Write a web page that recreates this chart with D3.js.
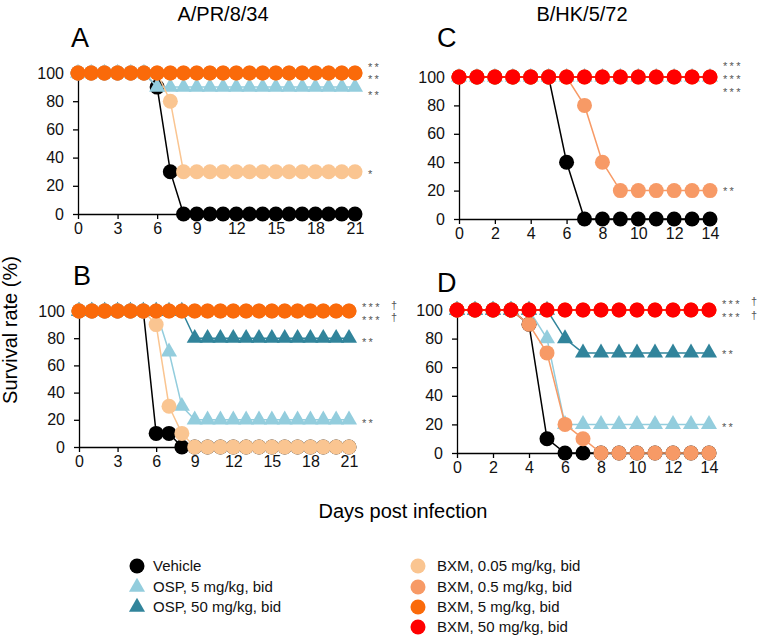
<!DOCTYPE html>
<html>
<head>
<meta charset="utf-8">
<script src="https://cdn.jsdelivr.net/npm/d3@7"></script>
<style>
  body { margin: 0; background: #fff; }
  svg { display: block; font-family: "Liberation Sans", Arial, sans-serif; }
</style>
</head>
<body>
<svg id="chart" width="761" height="643"></svg>
<script>
// days post infection
const daysPR = [0, 1, 2, 3, 4, 5, 6, 7, 8, 9, 10, 11, 12, 13, 14, 15, 16, 17, 18, 19, 20, 21];
const daysHK = [0, 1, 2, 3, 4, 5, 6, 7, 8, 9, 10, 11, 12, 13, 14];
const xTicksPR = [0, 3, 6, 9, 12, 15, 18, 21];
const xTicksHK = [0, 2, 4, 6, 8, 10, 12, 14];
const yTicks = [0, 20, 40, 60, 80, 100];

// panel A - A/PR/8/34
const vehicleA = [100, 100, 100, 100, 100, 100, 90, 30, 0, 0, 0, 0, 0, 0, 0, 0, 0, 0, 0, 0, 0, 0];
const osp5A    = [100, 100, 100, 100, 100, 100, 90, 90, 90, 90, 90, 90, 90, 90, 90, 90, 90, 90, 90, 90, 90, 90];
const bxm005A  = [100, 100, 100, 100, 100, 100, 100, 80, 30, 30, 30, 30, 30, 30, 30, 30, 30, 30, 30, 30, 30, 30];
const bxm05A   = [100, 100, 100, 100, 100, 100, 100, 100, 100, 100, 100, 100, 100, 100, 100, 100, 100, 100, 100, 100, 100, 100];
const bxm5A    = [100, 100, 100, 100, 100, 100, 100, 100, 100, 100, 100, 100, 100, 100, 100, 100, 100, 100, 100, 100, 100, 100];

// panel B - A/PR/8/34
const vehicleB = [100, 100, 100, 100, 100, 100, 10, 10, 0, 0, 0, 0, 0, 0, 0, 0, 0, 0, 0, 0, 0, 0];
const osp5B    = [100, 100, 100, 100, 100, 100, 100, 70, 30, 20, 20, 20, 20, 20, 20, 20, 20, 20, 20, 20, 20, 20];
const osp50B   = [100, 100, 100, 100, 100, 100, 100, 100, 100, 80, 80, 80, 80, 80, 80, 80, 80, 80, 80, 80, 80, 80];
const bxm005B  = [100, 100, 100, 100, 100, 100, 90, 30, 10, 0, 0, 0, 0, 0, 0, 0, 0, 0, 0, 0, 0, 0];
const bxm05B   = [100, 100, 100, 100, 100, 100, 100, 100, 100, 100, 100, 100, 100, 100, 100, 100, 100, 100, 100, 100, 100, 100];
const bxm5B    = [100, 100, 100, 100, 100, 100, 100, 100, 100, 100, 100, 100, 100, 100, 100, 100, 100, 100, 100, 100, 100, 100];

// panel C - B/HK/5/72
const vehicleC = [100, 100, 100, 100, 100, 100, 40, 0, 0, 0, 0, 0, 0, 0, 0];
const osp5C    = [100, 100, 100, 100, 100, 100, 100, 100, 100, 100, 100, 100, 100, 100, 100];
const bxm05C   = [100, 100, 100, 100, 100, 100, 100, 80, 40, 20, 20, 20, 20, 20, 20];
const bxm5C    = [100, 100, 100, 100, 100, 100, 100, 100, 100, 100, 100, 100, 100, 100, 100];
const bxm50C   = [100, 100, 100, 100, 100, 100, 100, 100, 100, 100, 100, 100, 100, 100, 100];

// panel D - B/HK/5/72
const vehicleD = [100, 100, 100, 100, 90, 10, 0, 0, 0, 0, 0, 0, 0, 0, 0];
const osp5D    = [100, 100, 100, 100, 100, 80, 20, 20, 20, 20, 20, 20, 20, 20, 20];
const osp50D   = [100, 100, 100, 100, 100, 100, 80, 70, 70, 70, 70, 70, 70, 70, 70];
const bxm05D   = [100, 100, 100, 100, 90, 70, 20, 10, 0, 0, 0, 0, 0, 0, 0];
const bxm5D    = [100, 100, 100, 100, 100, 100, 100, 100, 100, 100, 100, 100, 100, 100, 100];
const bxm50D   = [100, 100, 100, 100, 100, 100, 100, 100, 100, 100, 100, 100, 100, 100, 100];

// significance marks: [stars, level, dagger]
const sigA = [["**", 106.0, ""], ["**", 96.9, ""], ["**", 85.8, ""], ["*", 29.8, ""]];
const sigB = [["***", 104.4, "†"], ["***", 94.9, "†"], ["**", 78.7, ""], ["**", 19.1, ""]];
const sigC = [["***", 109.2, ""], ["***", 100.1, ""], ["***", 91.1, ""], ["**", 21.1, ""]];
const sigD = [["***", 105.6, "†"], ["***", 96.5, "†"], ["**", 70.6, ""], ["**", 19.6, ""]];

const groups = {
  vehicle: { label: "Vehicle",               color: "#000000", shape: "circle" },
  osp5:    { label: "OSP, 5 mg/kg, bid",     color: "#93cddd", shape: "triangle" },
  osp50:   { label: "OSP, 50 mg/kg, bid",    color: "#31849b", shape: "triangle" },
  bxm005:  { label: "BXM, 0.05 mg/kg, bid",  color: "#fac591", shape: "circle" },
  bxm05:   { label: "BXM, 0.5 mg/kg, bid",   color: "#f79a66", shape: "circle" },
  bxm5:    { label: "BXM, 5 mg/kg, bid",     color: "#fa6a0a", shape: "circle" },
  bxm50:   { label: "BXM, 50 mg/kg, bid",    color: "#ff0000", shape: "circle" }
};

const panels = [
  { id: "A", days: daysPR, xTicks: xTicksPR, sig: sigA,
    series: { vehicle: vehicleA, osp5: osp5A, bxm005: bxm005A, bxm05: bxm05A, bxm5: bxm5A },
    x: [78, 355], y: [214, 73], letter: [71, 47] },
  { id: "B", days: daysPR, xTicks: xTicksPR, sig: sigB,
    series: { vehicle: vehicleB, osp5: osp5B, osp50: osp50B, bxm005: bxm005B, bxm05: bxm05B, bxm5: bxm5B },
    x: [79, 349], y: [447, 311], letter: [73, 285] },
  { id: "C", days: daysHK, xTicks: xTicksHK, sig: sigC,
    series: { vehicle: vehicleC, osp5: osp5C, bxm05: bxm05C, bxm5: bxm5C, bxm50: bxm50C },
    x: [459, 710], y: [219, 77], letter: [437, 47] },
  { id: "D", days: daysHK, xTicks: xTicksHK, sig: sigD,
    series: { vehicle: vehicleD, osp5: osp5D, osp50: osp50D, bxm05: bxm05D, bxm5: bxm5D, bxm50: bxm50D },
    x: [457, 709], y: [453, 310], letter: [437, 292] }
];

const drawOrder = ["vehicle", "osp5", "osp50", "bxm005", "bxm05", "bxm5", "bxm50"];
const circleR = 7.5;
const triangle = d3.symbol(d3.symbolTriangle, 112);

const svg = d3.select("#chart");

function marker(sel, g) {
  if (g.shape === "circle") {
    sel.append("circle").attr("r", circleR).attr("fill", g.color);
  } else {
    sel.append("path").attr("d", triangle()).attr("fill", g.color);
  }
}

panels.forEach(p => {
  const x = d3.scaleLinear().domain([0, d3.max(p.days)]).range(p.x);
  const y = d3.scaleLinear().domain([0, 100]).range(p.y);
  const g = svg.append("g");

  const xAxis = g.append("g")
    .attr("transform", `translate(0,${p.y[0]})`)
    .call(d3.axisBottom(x).tickValues(p.xTicks).tickSize(5).tickSizeOuter(0).tickPadding(4));
  const yAxis = g.append("g")
    .attr("transform", `translate(${p.x[0]},0)`)
    .call(d3.axisLeft(y).tickValues(yTicks).tickSize(5).tickSizeOuter(0).tickPadding(9));
  [xAxis, yAxis].forEach(a => {
    a.selectAll("path, line").attr("stroke", "#000").attr("stroke-width", 1.3);
    a.selectAll("text").attr("font-size", 16).attr("fill", "#111")
      .attr("font-family", "'Liberation Sans', Arial, sans-serif");
  });

  const line = d3.line().x((d, i) => x(p.days[i])).y(d => y(d));

  drawOrder.filter(k => p.series[k]).forEach(k => {
    const vals = p.series[k];
    const st = groups[k];
    g.append("path").datum(vals)
      .attr("d", line).attr("fill", "none")
      .attr("stroke", st.color).attr("stroke-width", 1.5);
    const m = g.append("g").selectAll("g").data(vals).join("g")
      .attr("transform", (d, i) => `translate(${x(p.days[i])},${y(d)})`);
    marker(m, st);
  });

  g.append("text").attr("x", p.letter[0]).attr("y", p.letter[1])
    .attr("font-size", 27).attr("fill", "#000").text(p.id);

  // significance marks
  const sx = p.x[1] + 13;
  p.sig.forEach(s => {
    g.append("text").attr("x", sx).attr("y", y(s[1]) + 6)
      .attr("font-size", 11).attr("letter-spacing", 2.3).attr("fill", "#555").text(s[0]);
    if (s[2]) {
      g.append("text").attr("x", sx + 29).attr("y", y(s[1]) + 3.5)
        .attr("font-size", 11).attr("fill", "#555").text(s[2]);
    }
  });
});

// titles
svg.append("text").attr("x", 223).attr("y", 21).attr("text-anchor", "middle")
  .attr("font-size", 20).text("A/PR/8/34");
svg.append("text").attr("x", 582).attr("y", 21).attr("text-anchor", "middle")
  .attr("font-size", 20).text("B/HK/5/72");

svg.append("text")
  .attr("transform", "translate(17,330) rotate(-90)")
  .attr("text-anchor", "middle").attr("font-size", 20).text("Survival rate (%)");
svg.append("text").attr("x", 403).attr("y", 518).attr("text-anchor", "middle")
  .attr("font-size", 20).text("Days post infection");

// legend
const legendLeft = ["vehicle", "osp5", "osp50"];
const legendRight = ["bxm005", "bxm05", "bxm5", "bxm50"];
const legendRows = [566, 587, 607, 627];

function legendColumn(keys, mx, tx) {
  keys.forEach((k, i) => {
    const row = svg.append("g").attr("transform", `translate(0,${legendRows[i]})`);
    marker(row.append("g").attr("transform", `translate(${mx},0)`), groups[k]);
    row.append("text").attr("x", tx).attr("dy", "0.35em")
      .attr("font-size", 15).attr("fill", "#111").text(groups[k].label);
  });
}
legendColumn(legendLeft, 137, 153);
legendColumn(legendRight, 418, 437);
</script>
</body>
</html>
